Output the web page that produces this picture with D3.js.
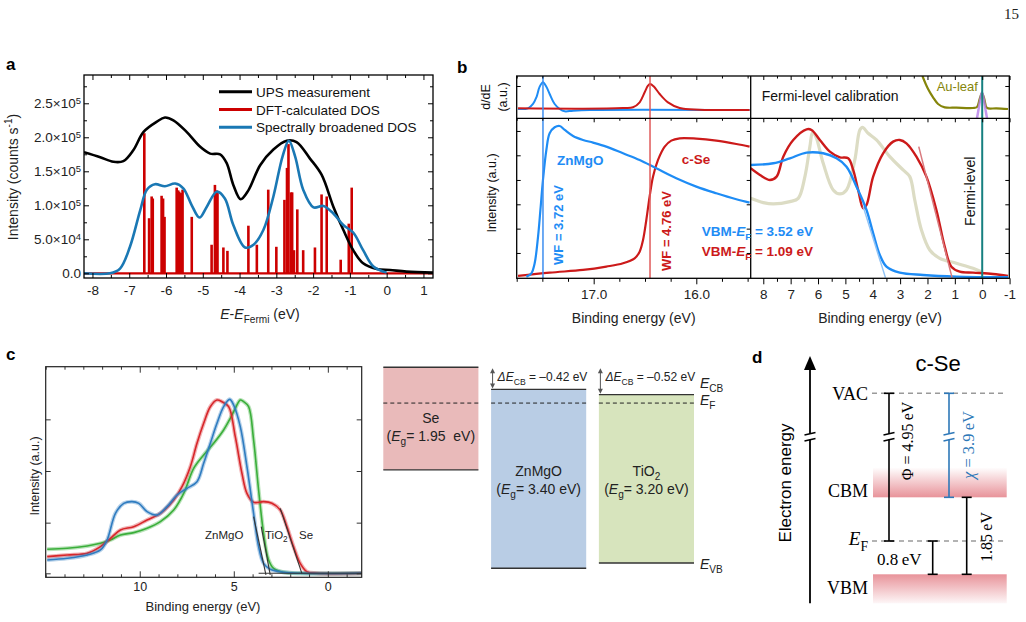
<!DOCTYPE html>
<html><head><meta charset="utf-8">
<script src="https://cdn.jsdelivr.net/npm/d3@7/dist/d3.min.js"></script>
<style>html,body{margin:0;padding:0;background:#fff}svg{display:block}</style>
</head><body>
<svg id="fig" width="1026" height="622" xmlns="http://www.w3.org/2000/svg"></svg>
<script>
// ================= DATA =================
// ---- panel a (x: E-EFermi eV, y: intensity in 1e5 counts/s)
const upsA = [[-8.23,1.78],[-7.79,1.706],[-7.43,1.64],[-7.16,1.65],[-6.89,1.81],[-6.61,2.08],[-6.25,2.23],[-6.03,2.29],[-5.80,2.25],[-5.44,2.08],[-5.07,1.86],[-4.80,1.76],[-4.53,1.75],[-4.35,1.62],[-4.17,1.30],[-3.97,1.09],[-3.76,1.22],[-3.44,1.59],[-3.08,1.82],[-2.72,1.95],[-2.45,1.93],[-2.09,1.69],[-1.77,1.45],[-1.45,0.98],[-1.18,0.64],[-0.91,0.34],[-0.64,0.147],[-0.27,0.064],[0.09,0.049],[0.54,0.025],[1.26,0.01]];
const broadA = [[-8.23,0],[-7.52,0],[-7.25,0.07],[-6.98,0.39],[-6.70,0.93],[-6.52,1.23],[-6.30,1.31],[-6.03,1.28],[-5.75,1.32],[-5.53,1.25],[-5.30,1.0],[-5.09,0.82],[-4.89,0.98],[-4.62,1.20],[-4.40,1.10],[-4.17,0.71],[-3.85,0.38],[-3.62,0.42],[-3.35,0.64],[-3.08,1.13],[-2.83,1.72],[-2.66,1.95],[-2.49,1.72],[-2.27,1.23],[-1.99,0.97],[-1.72,0.99],[-1.45,0.88],[-1.18,0.71],[-0.91,0.60],[-0.64,0.34],[-0.36,0.10],[0,0.01]];
const sticksA = [[-6.59,2.06],[-6.46,0.81],[-6.39,1.13],[-6.36,1.10],[-6.12,1.14],[-6.08,1.10],[-6.04,0.83],[-5.71,1.26],[-5.67,1.22],[-5.64,1.20],[-5.59,1.18],[-5.55,1.23],[-5.30,0.83],[-4.76,0.42],[-4.67,1.30],[-4.63,1.22],[-4.60,1.18],[-4.44,0.38],[-4.33,0.33],[-3.76,0.70],[-3.53,0.42],[-3.22,1.23],[-3.0,0.39],[-2.78,1.08],[-2.71,1.55],[-2.67,1.90],[-2.60,1.19],[-2.57,1.19],[-2.52,0.34],[-2.43,0.94],[-2.27,0.34],[-1.95,0.38],[-1.77,1.16],[-1.63,1.13],[-1.25,0.20],[-1.03,0.73],[-0.95,1.26]];
const aXTicks = [-8,-7,-6,-5,-4,-3,-2,-1,0,1];
const aYTicks = [0,0.5,1.0,1.5,2.0,2.5];
const aYTickLabels = [["0.0",""],["5.0×10","4"],["1.0×10","5"],["1.5×10","5"],["2.0×10","5"],["2.5×10","5"]];
const aLegend = ["UPS measurement","DFT-calculated DOS","Spectrally broadened DOS"];

// ---- panel b (x: binding energy eV; top: d/dE a.u.; bottom: intensity a.u.)
const dZnMgO = [[17.737,0],[17.640,2],[17.591,15],[17.558,35],[17.526,67],[17.494,80],[17.461,67],[17.429,45],[17.380,15],[17.331,0],[17.282,-7],[17.201,-5],[17.039,-3],[15.481,-3]];
const dSe = [[17.737,2],[17.104,1],[16.714,3],[16.617,5],[16.552,20],[16.503,50],[16.471,70],[16.451,75],[16.416,68],[16.357,45],[16.276,20],[16.162,3],[15.968,-2],[15.481,-3]];
const cutZnMgO = [[17.656,5],[17.607,15],[17.575,45],[17.542,125],[17.519,205],[17.494,295],[17.461,385],[17.429,435],[17.380,453],[17.331,457],[17.282,445],[17.201,427],[17.104,415],[17.006,407],[16.877,395],[16.714,375],[16.552,355],[16.390,330],[16.195,300],[16.0,275],[15.805,255],[15.610,237],[15.481,227]];
const cutSe = [[17.737,7],[17.429,17],[17.104,25],[16.877,35],[16.714,45],[16.601,60],[16.552,80],[16.519,115],[16.487,175],[16.455,245],[16.422,305],[16.373,355],[16.308,395],[16.244,413],[16.162,420],[16.0,419],[15.805,413],[15.610,403],[15.481,395]];
const vbSe = [[8.462,330],[8.122,310],[7.757,295],[7.513,305],[7.270,365],[6.905,415],[6.418,447],[6.236,445],[5.932,415],[5.567,380],[5.202,363],[4.898,360],[4.715,325],[4.533,265],[4.350,210],[4.229,220],[3.985,305],[3.620,375],[3.255,410],[3.012,415],[2.769,405],[2.404,365],[2.039,305],[1.674,205],[1.370,95],[1.127,35],[0.822,20],[0.336,17],[-0.394,13],[-0.942,7]];
const vbZnMgO = [[8.462,340],[7.635,345],[7.027,360],[6.418,377],[5.810,375],[5.324,360],[4.959,335],[4.594,275],[4.229,205],[3.985,135],[3.742,70],[3.499,35],[3.012,17],[2.161,10],[0.944,5],[-0.942,3]];
const vbRef = [[8.462,240],[8.0,227],[7.635,223],[7.027,230],[6.723,240],[6.479,305],[6.297,395],[6.2,437],[6.078,425],[5.810,345],[5.445,265],[5.202,253],[4.959,265],[4.655,355],[4.472,445],[4.375,453],[4.168,435],[3.864,415],[3.377,365],[2.891,325],[2.647,305],[2.465,235],[2.221,145],[1.917,85],[1.552,60],[0.944,45],[0.336,30],[0.032,20]];
const auLeaf = [[2.185,99],[1.978,60],[1.796,35],[1.613,15],[1.370,5],[0.944,4],[0.336,3],[0.190,6],[0.092,30],[0.007,48],[-0.078,30],[-0.175,3],[-0.516,2],[-0.942,0]];
const fermiPeak = [[0.19,-28],[0.117,7],[0.068,30],[0.007,50],[-0.054,30],[-0.102,7],[-0.175,-28]];
const tangentSe = [[2.319,395],[1.102,2]];
const tangentZnMgO = [[4.35,215],[3.535,2]];
const wfLines = [17.494, 16.451];
const fermiLevelB = 0;
const bLeftTicks = [17.0, 16.0];
const bRightTicks = [8,7,6,5,4,3,2,1,0,-1];
const bBotYTicks = [76,149,222,295,369,442];
const bTopYTicks = [69];

// ---- panel c (x: binding energy eV, y: intensity a.u.)
const cTiO2 = [[14.920,72],[13.858,75],[12.796,82],[12.088,90],[11.558,100],[11.027,115],[10.319,122],[9.611,135],[8.903,155],[8.195,190],[7.664,240],[7.133,315],[6.602,355],[6.071,390],[5.540,430],[5.186,465],[4.920,495],[4.655,520],[4.478,515],[4.212,500],[3.947,400],[3.681,250],[3.416,120],[3.150,40],[2.885,15],[2.354,3],[1.469,0],[-1.805,0]];
const cZnMgO = [[14.920,40],[13.858,45],[12.796,55],[12.088,70],[11.735,100],[11.292,180],[10.850,210],[10.407,215],[10.053,210],[9.611,185],[9.080,175],[8.549,200],[8.018,235],[7.487,255],[6.956,275],[6.602,330],[6.248,390],[5.894,450],[5.540,500],[5.221,522],[5.009,505],[4.655,440],[4.301,320],[3.947,180],[3.681,80],[3.416,30],[3.062,12],[2.354,3],[1.469,0],[-1.805,0]];
const cSe = [[14.920,50],[13.858,55],[12.796,60],[12.088,80],[11.558,105],[11.027,130],[10.319,140],[9.611,160],[8.903,180],[8.195,220],[7.752,260],[7.310,320],[6.956,390],[6.602,450],[6.248,500],[5.894,520],[5.628,515],[5.274,500],[4.920,410],[4.566,300],[4.301,240],[3.947,213],[3.416,215],[2.973,210],[2.531,190],[2.177,140],[1.823,80],[1.469,30],[1.115,5],[0.584,0],[-1.805,0]];
const cTangents = [[[3.947,170],[3.292,-5]],[[3.540,140],[3.062,-5]],[[2.531,195],[1.381,0]],[[3.681,0],[-1.805,0]]];
const cXTicks = [10,5,0];
const cYTicks = [0,152,307,462];
const cEdgeLabels = ["ZnMgO","TiO2","Se"];

// ---- band diagram (energies relative to Se CB, eV)
const bandMaterials = ["Se","ZnMgO","TiO2"];
const bandCB = [0, -0.42, -0.52];
const bandGap = [1.95, 3.40, 3.20];
const bandFermi = -0.68;
const bandOffsets = ["–0.42","–0.52"];

// ---- panel d (energies relative to VBM, eV)
const dLevelNames = ["VAC","CBM","EF","VBM"];
const dLevelValues = [5.75, 1.85, 0.8, 0];
const dWorkFunction = 4.95, dAffinity = 3.9, dGap = 1.85, dEFtoVBM = 0.8;

// ================= DRAWING =================
const SANS = '"Liberation Sans", Arial, Helvetica, sans-serif';
const SERIF = '"Liberation Serif", "Times New Roman", serif';
const svg = d3.select("#fig");
const defs = svg.append("defs");
function clip(id,x,y,w,h){defs.append("clipPath").attr("id",id).append("rect").attr("x",x).attr("y",y).attr("width",w).attr("height",h);}
function rich(parent,x,y,parts,o={}){
  const fs=o.fs||13;
  const t=parent.append("text").attr("font-family",o.ff||SANS).attr("font-size",fs).attr("fill",o.fill||"#111").style("white-space","pre");
  if(o.rotate){t.attr("transform",`translate(${x},${y}) rotate(${o.rotate})`);}else{t.attr("x",x).attr("y",y);}
  if(o.anchor)t.attr("text-anchor",o.anchor);
  if(o.weight)t.attr("font-weight",o.weight);
  let cur=0;
  parts.forEach(p=>{
    const [txt,k]=typeof p==="string"?[p,""]:p;
    const ks=k.split(" ");
    const s=t.append("tspan").text(txt);
    let target=0;
    if(ks.includes("sub")){target=fs*0.3;s.attr("font-size",fs*0.72);}
    if(ks.includes("sup")){target=-fs*0.42;s.attr("font-size",fs*0.72);}
    if(ks.includes("i"))s.attr("font-style","italic");
    if(target!==cur){s.attr("dy",target-cur);cur=target;}
  });
  return t;
}
function axis(g,gen,o={}){
  g.call(gen);
  g.select(".domain").remove();
  g.attr("font-family",null).attr("font-size",null);
  g.selectAll(".tick line").attr("stroke",o.color||"#000").attr("stroke-width",o.sw||1);
  g.selectAll(".tick text").attr("font-family",SANS).attr("font-size",o.fs||13).attr("fill",o.tc||"#111");
  return g;
}
const nofmt=()=> "";
function minorVals(lo,hi,step,skip){const out=[];for(let v=Math.ceil(lo/step)*step;v<=hi+1e-9;v+=step){const r=Math.round(v*1000)/1000;if(!skip.some(s=>Math.abs(s-r)<1e-6))out.push(r);}return out;}

// ---------- panel a ----------
{
  const g=svg.append("g");
  const x=d3.scaleLinear().domain([-8.23,1.26]).range([84,433]);
  const y=d3.scaleLinear().domain([-0.069,2.916]).range([278,75]);
  clip("clipA",84,75,349,203);
  const p=g.append("g").attr("clip-path","url(#clipA)");
  p.append("line").attr("x1",x(-8.23)).attr("x2",x(1.26)).attr("y1",y(0)).attr("y2",y(0)).attr("stroke","#cc0000").attr("stroke-width",2.2);
  p.selectAll(".st").data(sticksA).join("line").attr("x1",d=>x(d[0])).attr("x2",d=>x(d[0])).attr("y1",y(0)).attr("y2",d=>y(d[1])).attr("stroke","#cc0000").attr("stroke-width",2.6);
  const ln=d3.line().x(d=>x(d[0])).y(d=>y(d[1])).curve(d3.curveCatmullRom.alpha(0.5));
  p.append("path").datum(upsA).attr("d",ln).attr("fill","none").attr("stroke","#000").attr("stroke-width",2.6);
  p.append("path").datum(broadA).attr("d",ln).attr("fill","none").attr("stroke","#1a78b4").attr("stroke-width",2.6);
  const xmin=minorVals(-8.23,1.26,0.5,aXTicks), ymin=minorVals(0,2.9,0.25,aYTicks);
  axis(g.append("g").attr("transform","translate(0,278)"),d3.axisBottom(x).tickValues(aXTicks).tickSize(-5).tickPadding(7).tickFormat(d=>String(d)),{fs:13.5,tc:"#222"});
  axis(g.append("g").attr("transform","translate(0,278)"),d3.axisBottom(x).tickValues(xmin).tickSize(-3).tickFormat(nofmt));
  axis(g.append("g").attr("transform","translate(0,75)"),d3.axisTop(x).tickValues(aXTicks).tickSize(-5).tickFormat(nofmt));
  axis(g.append("g").attr("transform","translate(0,75)"),d3.axisTop(x).tickValues(xmin).tickSize(-3).tickFormat(nofmt));
  const ya=axis(g.append("g").attr("transform","translate(84,0)"),d3.axisLeft(y).tickValues(aYTicks).tickSize(-5).tickPadding(3).tickFormat(nofmt),{fs:13.5,tc:"#222"});
  ya.selectAll(".tick text").each(function(d,i){const [m,e]=aYTickLabels[i];const t=d3.select(this);t.append("tspan").text(m);if(e)t.append("tspan").attr("dy","-0.45em").attr("font-size","0.7em").text(e);});
  axis(g.append("g").attr("transform","translate(84,0)"),d3.axisLeft(y).tickValues(ymin).tickSize(-3).tickFormat(nofmt));
  axis(g.append("g").attr("transform","translate(433,0)"),d3.axisRight(y).tickValues(aYTicks).tickSize(-5).tickFormat(nofmt));
  axis(g.append("g").attr("transform","translate(433,0)"),d3.axisRight(y).tickValues(ymin).tickSize(-3).tickFormat(nofmt));
  g.append("rect").attr("x",84).attr("y",75).attr("width",349).attr("height",203).attr("fill","none").attr("stroke","#000").attr("stroke-width",1.3);
  const cols=["#000","#cc0000","#1a78b4"];
  aLegend.forEach((s,i)=>{const yy=91.7+i*17.8;
    g.append("line").attr("x1",219).attr("x2",252).attr("y1",yy).attr("y2",yy).attr("stroke",cols[i]).attr("stroke-width",3);
    g.append("text").attr("x",256).attr("y",yy+5).attr("font-family",SANS).attr("font-size",13.5).attr("fill","#111").text(s);});
  rich(g,18,177,["Intensity (counts s",["-1","sup"],")"],{fs:14,rotate:-90,anchor:"middle",fill:"#222"});
  rich(g,260,319,[["E","i"],"-",["E","i"],["Fermi","sub"]," (eV)"],{fs:14,anchor:"middle",fill:"#222"});
  g.append("text").attr("x",6).attr("y",70).attr("font-family",SANS).attr("font-weight","bold").attr("font-size",17).text("a");
}

// ---------- panel b ----------
{
  const g=svg.append("g");
  const L0=516.7,M=750.7,R1=1009.3,T=76,S=118.3,B=278.3;
  const xL=d3.scaleLinear().domain([17.75,15.47]).range([L0,M]);
  const xR=d3.scaleLinear().domain([8.46,-0.99]).range([M,R1]);
  const yT=d3.scaleLinear().domain([-28,99]).range([S,T]);
  const yB=d3.scaleLinear().domain([0,480]).range([B,S]);
  clip("cLT",L0,T,M-L0,S-T);clip("cLB",L0,S,M-L0,B-S);clip("cRT",M,T,R1-M,S-T);clip("cRB",M,S,R1-M,B-S);
  const BL="#1e8cf5",RD="#cc1a1a";
  const lineOf=(x,y)=>d3.line().x(d=>x(d[0])).y(d=>y(d[1])).curve(d3.curveCatmullRom.alpha(0.5));
  const lt=g.append("g").attr("clip-path","url(#cLT)");
  lt.append("path").datum(dZnMgO).attr("d",lineOf(xL,yT)).attr("fill","none").attr("stroke",BL).attr("stroke-width",2);
  lt.append("path").datum(dSe).attr("d",lineOf(xL,yT)).attr("fill","none").attr("stroke",RD).attr("stroke-width",2);
  const lb=g.append("g").attr("clip-path","url(#cLB)");
  lb.append("path").datum(cutSe).attr("d",lineOf(xL,yB)).attr("fill","none").attr("stroke",RD).attr("stroke-width",2.2);
  lb.append("path").datum(cutZnMgO).attr("d",lineOf(xL,yB)).attr("fill","none").attr("stroke",BL).attr("stroke-width",2.2);
  const wfc=["#3d8ef0","#e05a5a"];
  wfLines.forEach((v,i)=>g.append("line").attr("x1",xL(v)).attr("x2",xL(v)).attr("y1",T).attr("y2",B).attr("stroke",wfc[i]).attr("stroke-width",1.5));
  const rt=g.append("g").attr("clip-path","url(#cRT)");
  rt.append("path").datum(auLeaf).attr("d",lineOf(xR,yT)).attr("fill","none").attr("stroke","#85850a").attr("stroke-width",2.2);
  rt.append("path").datum(fermiPeak).attr("d",lineOf(xR,yT)).attr("fill","none").attr("stroke","#b77de8").attr("stroke-width",2.5).attr("opacity",0.8);
  const rb=g.append("g").attr("clip-path","url(#cRB)");
  rb.append("path").datum(vbRef).attr("d",lineOf(xR,yB)).attr("fill","none").attr("stroke","#dcdcc4").attr("stroke-width",3.2);
  rb.append("path").datum(vbSe).attr("d",lineOf(xR,yB)).attr("fill","none").attr("stroke",RD).attr("stroke-width",2.4);
  rb.append("path").datum(vbZnMgO).attr("d",lineOf(xR,yB)).attr("fill","none").attr("stroke",BL).attr("stroke-width",2.4);
  rb.append("path").datum(tangentSe).attr("d",d3.line().x(d=>xR(d[0])).y(d=>yB(d[1]))).attr("stroke","#d97a7e").attr("stroke-width",1.5).attr("fill","none");
  rb.append("path").datum(tangentZnMgO).attr("d",d3.line().x(d=>xR(d[0])).y(d=>yB(d[1]))).attr("stroke","#90c3f5").attr("stroke-width",1.5).attr("fill","none");
  g.append("line").attr("x1",xR(fermiLevelB)).attr("x2",xR(fermiLevelB)).attr("y1",T).attr("y2",B).attr("stroke","#168080").attr("stroke-width",2);
  // axes
  const lMinor=minorVals(15.5,17.75,0.25,bLeftTicks), rMinor=minorVals(-0.99,8.46,0.5,bRightTicks);
  const fmt1=d=>d.toFixed(1), fmt0=d=>String(d);
  axis(g.append("g").attr("transform",`translate(0,${B})`),d3.axisBottom(xL).tickValues(bLeftTicks).tickSize(6).tickPadding(5).tickFormat(fmt1),{fs:13.5,tc:"#222"});
  axis(g.append("g").attr("transform",`translate(0,${B})`),d3.axisBottom(xL).tickValues(lMinor).tickSize(3.5).tickFormat(nofmt));
  axis(g.append("g").attr("transform",`translate(0,${B})`),d3.axisBottom(xR).tickValues(bRightTicks).tickSize(6).tickPadding(5).tickFormat(fmt0),{fs:13.5,tc:"#222"});
  axis(g.append("g").attr("transform",`translate(0,${B})`),d3.axisBottom(xR).tickValues(rMinor).tickSize(3.5).tickFormat(nofmt));
  [T,S].forEach(yy=>{
    axis(g.append("g").attr("transform",`translate(0,${yy})`),d3.axisTop(xL).tickValues(bLeftTicks).tickSize(-4).tickFormat(nofmt));
    axis(g.append("g").attr("transform",`translate(0,${yy})`),d3.axisTop(xL).tickValues(lMinor).tickSize(-2.5).tickFormat(nofmt));
    axis(g.append("g").attr("transform",`translate(0,${yy})`),d3.axisTop(xR).tickValues(bRightTicks).tickSize(-4).tickFormat(nofmt));
    axis(g.append("g").attr("transform",`translate(0,${yy})`),d3.axisTop(xR).tickValues(rMinor).tickSize(-2.5).tickFormat(nofmt));
  });
  axis(g.append("g").attr("transform",`translate(${L0},0)`),d3.axisLeft(yB).tickValues(bBotYTicks).tickSize(-4).tickFormat(nofmt));
  axis(g.append("g").attr("transform",`translate(${L0},0)`),d3.axisLeft(yT).tickValues(bTopYTicks).tickSize(-4).tickFormat(nofmt));
  axis(g.append("g").attr("transform",`translate(${M},0)`),d3.axisRight(yB).tickValues(bBotYTicks).tickSize(-4).tickFormat(nofmt));
  axis(g.append("g").attr("transform",`translate(${R1},0)`),d3.axisRight(yB).tickValues(bBotYTicks).tickSize(-4).tickFormat(nofmt));
  axis(g.append("g").attr("transform",`translate(${R1},0)`),d3.axisRight(yT).tickValues(bTopYTicks).tickSize(-4).tickFormat(nofmt));
  g.append("rect").attr("x",L0).attr("y",T).attr("width",R1-L0).attr("height",B-T).attr("fill","none").attr("stroke","#000").attr("stroke-width",1.3);
  g.append("line").attr("x1",L0).attr("x2",R1).attr("y1",S).attr("y2",S).attr("stroke","#000").attr("stroke-width",1.3);
  g.append("line").attr("x1",M).attr("x2",M).attr("y1",T).attr("y2",B).attr("stroke","#000").attr("stroke-width",1.3);
  // texts
  const bt=(x,y,s,o)=>g.append("text").attr("x",x).attr("y",y).attr("font-family",SANS).attr("font-size",o.fs||13).attr("font-weight",o.w||"normal").attr("fill",o.fill||"#111").text(s);
  bt(557,165,"ZnMgO",{fs:13.5,w:"bold",fill:BL});
  bt(681.7,164,"c-Se",{fs:13.5,w:"bold",fill:RD});
  g.append("text").attr("transform","translate(558,225) rotate(-90)").attr("text-anchor","middle").attr("dominant-baseline","central").attr("font-family",SANS).attr("font-size",13).attr("font-weight","bold").attr("fill",BL).text("WF = 3.72 eV");
  g.append("text").attr("transform","translate(666.7,231) rotate(-90)").attr("text-anchor","middle").attr("dominant-baseline","central").attr("font-family",SANS).attr("font-size",13).attr("font-weight","bold").attr("fill",RD).text("WF = 4.76 eV");
  g.append("text").attr("transform","translate(969.5,191.3) rotate(-90)").attr("text-anchor","middle").attr("dominant-baseline","central").attr("font-family",SANS).attr("font-size",14).attr("fill","#111").text("Fermi-level");
  rich(g,701.7,236,["VBM-",["E","i"],["F","sub"]," = 3.52 eV"],{fs:13.5,weight:"bold",fill:BL});
  rich(g,701.7,256,["VBM-",["E","i"],["F","sub"]," = 1.09 eV"],{fs:13.5,weight:"bold",fill:RD});
  bt(761.7,101,"Fermi-level calibration",{fs:14});
  bt(936.7,90.7,"Au-leaf",{fs:13,fill:"#85850a"});
  g.append("text").attr("transform","translate(485.7,97) rotate(-90)").attr("text-anchor","middle").attr("dominant-baseline","central").attr("font-family",SANS).attr("font-size",12.5).attr("fill","#111").text("d/dE");
  g.append("text").attr("transform","translate(503,97) rotate(-90)").attr("text-anchor","middle").attr("dominant-baseline","central").attr("font-family",SANS).attr("font-size",12.5).attr("fill","#111").text("(a.u.)");
  g.append("text").attr("transform","translate(492,193) rotate(-90)").attr("text-anchor","middle").attr("dominant-baseline","central").attr("font-family",SANS).attr("font-size",12.5).attr("fill","#111").text("Intensity (a.u.)");
  g.append("text").attr("x",633.7).attr("y",323).attr("text-anchor","middle").attr("font-family",SANS).attr("font-size",14).attr("fill","#222").text("Binding energy (eV)");
  g.append("text").attr("x",880).attr("y",323).attr("text-anchor","middle").attr("font-family",SANS).attr("font-size",14).attr("fill","#222").text("Binding energy (eV)");
  g.append("text").attr("x",457).attr("y",73).attr("font-family",SANS).attr("font-weight","bold").attr("font-size",17).text("b");
}

// ---------- panel c ----------
{
  const g=svg.append("g");
  const L=45.7,R=361.7,T=366.7,B=577.3;
  const x=d3.scaleLinear().domain([15,-1.8]).range([L,R]);
  const y=d3.scaleLinear().domain([-12,620]).range([B,T]);
  clip("cC",L,T,R-L,B-T);
  const p=g.append("g").attr("clip-path","url(#cC)");
  const ln=d3.line().x(d=>x(d[0])).y(d=>y(d[1])).curve(d3.curveCatmullRom.alpha(0.5));
  [[cTiO2,"#3aae3a"],[cSe,"#d7262a"],[cZnMgO,"#2f7cc0"]].forEach(([dat,col])=>{
    p.append("path").datum(dat).attr("d",ln).attr("fill","none").attr("stroke",col).attr("stroke-width",4).attr("opacity",0.35);
    p.append("path").datum(dat).attr("d",ln).attr("fill","none").attr("stroke",col).attr("stroke-width",1.6);
  });
  cTangents.forEach(t=>p.append("path").datum(t).attr("d",d3.line().x(d=>x(d[0])).y(d=>y(d[1]))).attr("stroke","#333").attr("stroke-width",1.1).attr("fill","none"));
  const xmin=minorVals(-1.8,15,1,cXTicks);
  axis(g.append("g").attr("transform",`translate(0,${B})`),d3.axisBottom(x).tickValues(cXTicks).tickSize(-6).tickPadding(5).tickFormat(d=>String(d)),{fs:12.5,tc:"#222",color:"#333"});
  axis(g.append("g").attr("transform",`translate(0,${B})`),d3.axisBottom(x).tickValues(xmin).tickSize(-3).tickFormat(nofmt),{color:"#333"});
  axis(g.append("g").attr("transform",`translate(0,${T})`),d3.axisTop(x).tickValues(cXTicks).tickSize(-6).tickFormat(nofmt),{color:"#333"});
  axis(g.append("g").attr("transform",`translate(0,${T})`),d3.axisTop(x).tickValues(xmin).tickSize(-3).tickFormat(nofmt),{color:"#333"});
  axis(g.append("g").attr("transform",`translate(${L},0)`),d3.axisLeft(y).tickValues(cYTicks).tickSize(-5).tickFormat(nofmt),{color:"#333"});
  axis(g.append("g").attr("transform",`translate(${R},0)`),d3.axisRight(y).tickValues(cYTicks).tickSize(-5).tickFormat(nofmt),{color:"#333"});
  g.append("rect").attr("x",L).attr("y",T).attr("width",R-L).attr("height",B-T).attr("fill","none").attr("stroke","#222").attr("stroke-width",1.2);
  const lx=[205,265,299];
  cEdgeLabels.forEach((s,i)=>{
    if(s==="TiO2") rich(g,lx[i],538.5,["TiO",["2","sub"]],{fs:11.5,fill:"#222"});
    else g.append("text").attr("x",lx[i]).attr("y",538.5).attr("font-family",SANS).attr("font-size",11.5).attr("fill","#222").text(s);
  });
  g.append("text").attr("transform","translate(35,476) rotate(-90)").attr("text-anchor","middle").attr("dominant-baseline","central").attr("font-family",SANS).attr("font-size",12.5).attr("fill","#222").text("Intensity (a.u.)");
  g.append("text").attr("x",203).attr("y",611).attr("text-anchor","middle").attr("font-family",SANS).attr("font-size",13).attr("fill","#222").text("Binding energy (eV)");
  g.append("text").attr("x",6).attr("y",360).attr("font-family",SANS).attr("font-weight","bold").attr("font-size",17).text("c");
}

// ---------- band diagram ----------
{
  const g=svg.append("g");
  const yE=d3.scaleLinear().domain([0,-4]).range([367.3,577.7]);
  const xb=d3.scaleBand().domain(bandMaterials).range([383.3,694]).paddingInner(0.1176);
  const fills=["#e9baba","#b9cde5","#d7e4bd"];
  bandMaterials.forEach((m,i)=>{
    const x0=xb(m),w=xb.bandwidth(),yc=yE(bandCB[i]),yv=yE(bandCB[i]-bandGap[i]);
    g.append("rect").attr("x",x0).attr("y",yc).attr("width",w).attr("height",yv-yc).attr("fill",fills[i]);
    g.append("line").attr("x1",x0).attr("x2",x0+w).attr("y1",yc).attr("y2",yc).attr("stroke","#333").attr("stroke-width",1.4);
    g.append("line").attr("x1",x0).attr("x2",x0+w).attr("y1",yv).attr("y2",yv).attr("stroke","#333").attr("stroke-width",1.4);
    g.append("line").attr("x1",x0).attr("x2",x0+w).attr("y1",yE(bandFermi)).attr("y2",yE(bandFermi)).attr("stroke","#222").attr("stroke-width",1).attr("stroke-dasharray","4,3");
    const cx=x0+w/2, ym=(m==="Se")?423:476;
    if(m==="TiO2") rich(g,cx,ym,["TiO",["2","sub"]],{fs:14,anchor:"middle",fill:"#222"});
    else g.append("text").attr("x",cx).attr("y",ym).attr("text-anchor","middle").attr("font-family",SANS).attr("font-size",14).attr("fill","#222").text(m);
    rich(g,cx,ym+18,["(",["E","i"],["g","sub"],"= "+bandGap[i].toFixed(2)+(m==="Se"?"\u00a0 eV)":" eV)")],{fs:14,anchor:"middle",fill:"#222"});
  });
  // offsets arrows
  [1,2].forEach((i,k)=>{
    const xa=xb(bandMaterials[i])+1.5, y1=yE(0)+1, y2=yE(bandCB[i])-1;
    g.append("line").attr("x1",xa).attr("x2",xa).attr("y1",y1+3).attr("y2",y2-3).attr("stroke","#555").attr("stroke-width",1);
    g.append("path").attr("d",`M${xa-2.5},${y1+5}L${xa},${y1}L${xa+2.5},${y1+5}Z`).attr("fill","#555");
    g.append("path").attr("d",`M${xa-2.5},${y2-5}L${xa},${y2}L${xa+2.5},${y2-5}Z`).attr("fill","#555");
    rich(g,xa+5,381,[["Δ","i"],["E","i"],["CB","sub"]," = "+bandOffsets[k]+" eV"],{fs:12,fill:"#222"});
  });
  rich(g,700,388,[["E","i"],["CB","sub"]],{fs:14,fill:"#222"});
  rich(g,700,405,[["E","i"],["F","sub"]],{fs:14,fill:"#222"});
  rich(g,700,569,[["E","i"],["VB","sub"]],{fs:14,fill:"#222"});
}

// ---------- panel d ----------
{
  const g=svg.append("g");
  const y=d3.scaleLinear().domain([0,2.85,5.75]).range([574.3,455.7,393.3]);
  const yVAC=y(dLevelValues[0]),yCBM=y(dLevelValues[1]),yEF=y(dLevelValues[2]),yVBM=y(dLevelValues[3]);
  const x0=873,x1=1006.7,brk=436.7;
  const gu=defs.append("linearGradient").attr("id","gUp").attr("x1",0).attr("x2",0).attr("y1",0).attr("y2",1);
  gu.append("stop").attr("offset","0%").attr("stop-color","#e8939a").attr("stop-opacity",0);
  gu.append("stop").attr("offset","100%").attr("stop-color","#e8939a").attr("stop-opacity",1);
  const gd=defs.append("linearGradient").attr("id","gDn").attr("x1",0).attr("x2",0).attr("y1",0).attr("y2",1);
  gd.append("stop").attr("offset","0%").attr("stop-color","#e8939a").attr("stop-opacity",1);
  gd.append("stop").attr("offset","100%").attr("stop-color","#e8939a").attr("stop-opacity",0.08);
  g.append("rect").attr("x",x0).attr("y",yCBM-30).attr("width",x1-x0).attr("height",30).attr("fill","url(#gUp)");
  g.append("rect").attr("x",x0).attr("y",yVBM).attr("width",x1-x0).attr("height",29).attr("fill","url(#gDn)");
  [yVAC,yEF].forEach(yy=>g.append("line").attr("x1",x0-1).attr("x2",x1).attr("y1",yy).attr("y2",yy).attr("stroke","#9a9a9a").attr("stroke-width",1.5).attr("stroke-dasharray","5,4"));
  g.append("line").attr("x1",810).attr("x2",810).attr("y1",603.3).attr("y2",368).attr("stroke","#000").attr("stroke-width",1.8);
  g.append("path").attr("d","M804,370L810,356L816,370Z").attr("fill","#000");
  function brkMark(xx,col){
    g.append("rect").attr("x",xx-3).attr("y",brk-3).attr("width",6).attr("height",6).attr("fill","#fff");
    [-3,3].forEach(o=>g.append("line").attr("x1",xx-5.5).attr("x2",xx+5.5).attr("y1",brk+o+1.2).attr("y2",brk+o-1.2).attr("stroke",col).attr("stroke-width",1.5));
  }
  function bar(xx,ya,yb,col,withBreak){
    g.append("line").attr("x1",xx).attr("x2",xx).attr("y1",ya).attr("y2",yb).attr("stroke",col).attr("stroke-width",1.6);
    [ya,yb].forEach(yy=>g.append("line").attr("x1",xx-5).attr("x2",xx+5).attr("y1",yy).attr("y2",yy).attr("stroke",col).attr("stroke-width",1.6));
    if(withBreak)brkMark(xx,col);
  }
  brkMark(810,"#000");
  const CH="#2e78b8";
  bar(889,yVAC,yEF,"#000",true);
  bar(949,yVAC,yCBM,CH,true);
  bar(966.7,yCBM,yVBM,"#000",false);
  bar(932.7,yEF,yVBM,"#000",false);
  rich(g,906.7,441,["Φ = "+dWorkFunction.toFixed(2)+"\u2009eV"],{fs:16,ff:SERIF,rotate:-90,anchor:"middle",fill:"#000"}).attr("dominant-baseline","central");
  rich(g,968,445,[["χ","i"]," = "+dAffinity.toFixed(1)+"\u2009eV"],{fs:16.5,ff:SERIF,rotate:-90,anchor:"middle",fill:CH}).attr("dominant-baseline","central");
  rich(g,986,537,[dGap.toFixed(2)+"\u2009eV"],{fs:16,ff:SERIF,rotate:-90,anchor:"middle",fill:"#000"}).attr("dominant-baseline","central");
  rich(g,877,565,[dEFtoVBM.toFixed(1)+"\u2009eV"],{fs:17,ff:SERIF,fill:"#000"});
  const st={fs:18,ff:SERIF,anchor:"end",fill:"#000"};
  rich(g,868,400,["VAC"],st);
  rich(g,868,496.5,["CBM"],st);
  rich(g,868,545,[["E","i"],["F","sub"]],{fs:19,ff:SERIF,anchor:"end",fill:"#000"});
  rich(g,868,593.5,["VBM"],st);
  g.append("text").attr("x",938).attr("y",371).attr("text-anchor","middle").attr("font-family",SANS).attr("font-size",22).attr("fill","#000").text("c-Se");
  g.append("text").attr("transform","translate(785,483) rotate(-90)").attr("text-anchor","middle").attr("dominant-baseline","central").attr("font-family",SANS).attr("font-size",17).attr("fill","#000").text("Electron energy");
  g.append("text").attr("x",752).attr("y",363).attr("font-family",SANS).attr("font-weight","bold").attr("font-size",17).text("d");
}
svg.append("text").attr("x",1019).attr("y",19).attr("text-anchor","end").attr("font-family",SERIF).attr("font-size",15).attr("fill","#222").text("15");
</script>
</body></html>
